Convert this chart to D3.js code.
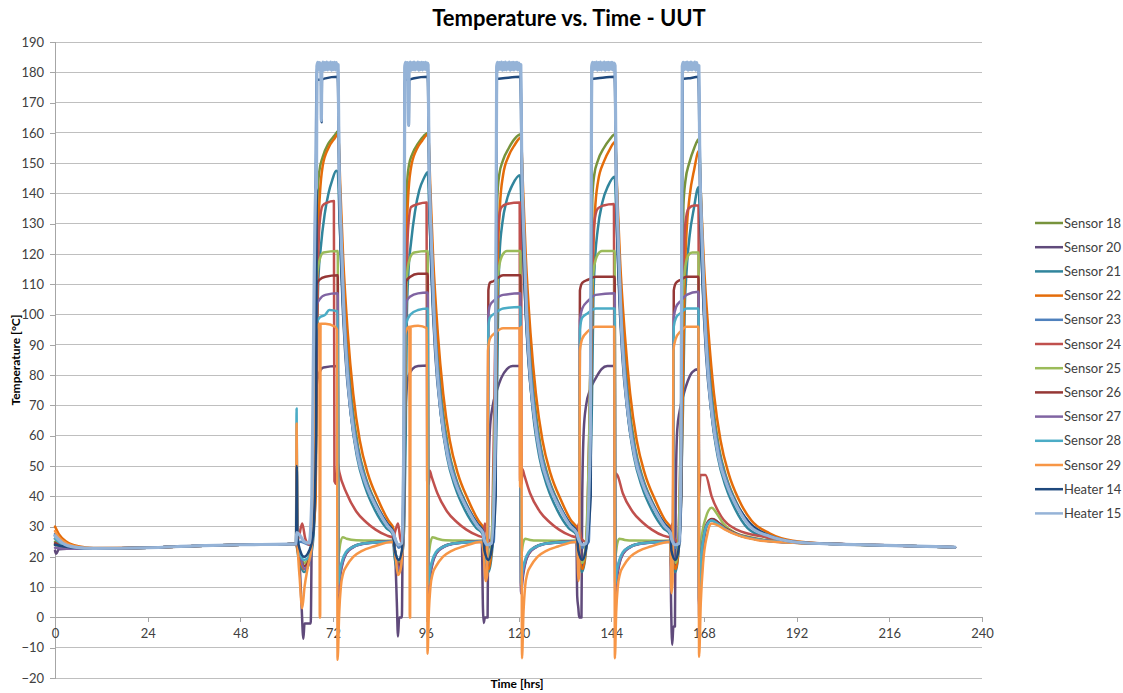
<!DOCTYPE html>
<html>
<head>
<meta charset="utf-8">
<script src="https://cdn.jsdelivr.net/npm/d3@7"></script>
<style>
  html, body { margin: 0; padding: 0; background: #fff; }
  svg { display: block; font-family: Lato, "Liberation Sans", sans-serif; }
</style>
</head>
<body>
<svg id="chart" width="1123" height="693"></svg>
<script>
// Temperature vs. Time - UUT : 11 sensors + 2 heaters, five heat cycles. [hours, degC] pairs.
var xTicks = [0, 24, 48, 72, 96, 120, 144, 168, 192, 216, 240];
var yTicks = [-20, -10, 0, 10, 20, 30, 40, 50, 60, 70, 80, 90, 100, 110, 120, 130, 140, 150, 160, 170, 180, 190];
var names = ["Sensor 18", "Sensor 20", "Sensor 21", "Sensor 22", "Sensor 23", "Sensor 24", "Sensor 25",
             "Sensor 26", "Sensor 27", "Sensor 28", "Sensor 29", "Heater 14", "Heater 15"];
var colors = ["#77933C", "#604A7B", "#31859C", "#E46C0A", "#4F81BD", "#C0504D", "#9BBB59",
              "#953735", "#8064A2", "#4BACC6", "#F79646", "#1F497D", "#95B3D7"];

var s18 = [[0,25],[2,23.8],[5,23],[10,22.8],[24,23],[36,23.6],[48,24],[60,24.2],[62.4,24.3],
  [63,22],[64.5,18],[65.8,20],[66.5,26],[67.2,60],[67.6,110],[68,140],[68.4,147],[69.3,152],[70.8,156.5],[72.3,159],[73.3,160.5],
  [73.8,140],[74.5,115],[75.5,92],[76.8,72],[78.5,56],[80.5,46],[83,38],[86,31],[87.5,28.5],
  [88,22],[89,18],[89.7,20],[90.2,28],[90.5,70],[90.8,120],[91.1,142],[91.6,149],[92.5,153],[94,156.5],[95.5,159],[96.6,160],
  [97.1,140],[97.8,115],[98.8,92],[100.1,72],[101.8,56],[103.8,46],[106.3,38],[109.3,31],[110.8,28.5],
  [111.3,22],[112.2,18],[112.9,22],[113.6,40],[114.1,90],[114.5,138],[115,146],[116,151],[117.5,155],[119,158],[120.6,159.5],
  [121.1,140],[121.8,115],[122.8,92],[124.1,72],[125.8,56],[127.8,46],[130.3,38],[133.3,31],[135,28.5],
  [135.6,22],[136.5,18],[137.3,22],[138.1,40],[138.7,90],[139.1,138],[139.6,146],[140.6,151],[142.1,155],[143.6,157.8],[145,159.5],
  [145.5,140],[146.2,115],[147.2,92],[148.5,72],[150.2,56],[152.2,46],[154.7,38],[157.7,31],[159.3,28.5],
  [159.7,22],[160.6,18],[161.3,22],[161.9,40],[162.3,90],[162.7,136],[163.2,144],[164.2,150],[165.5,155],[166.7,158],
  [167.2,140],[167.9,115],[168.9,92],[170.2,72],[171.9,56],[173.9,46],[176.4,38],[179.5,31.5],[184,27.5],[190,25.2],[200,24.3],[215,23.8],[233,23.2]];

var s20 = [[0,22],[0.3,21],[1,22.5],[5,22.8],[10,22.8],[24,23],[36,23.6],[48,24],[60,24.2],[62.4,24.3],
  [63.2,20],[63.8,5],[64.3,-7],[64.6,-2],[66.2,-2],[66.5,30],[67,50],[67.5,72],[68.2,80],[69.5,82.5],[73.2,83],
  [73.35,5],[73.7,12],[74.3,17],[75.3,21],[77.3,23.5],[80.3,24.5],[87.5,25],
  [88,22],[88.5,5],[88.8,-6.3],[89.1,0],[89.8,0],[90,25],[90.4,50],[90.8,70],[91.4,79],[92.5,82],[94,83],[96.5,83.2],
  [96.65,5],[97,12],[97.6,17],[98.6,21],[100.6,23.5],[103.6,24.5],[110.5,25],
  [110.8,3],[111,-1.8],[111.3,0],[112,0],[112.2,40],[112.6,62],[113.2,69],[114.4,75],[115.5,79],[117,82],[118.5,83],[120.5,83],
  [120.7,8],[121,12],[121.6,17],[122.6,21],[124.6,23.5],[127.6,24.5],[135,25],
  [135.2,7],[135.5,3],[135.7,0],[136.3,0],[136.5,40],[136.9,62],[137.5,70],[138.5,75],[140,79],[141.5,82],[143,83],[144.9,83],
  [145.05,8],[145.4,12],[146,17],[147,21],[149,23.5],[152,24.5],[159.3,25],
  [159.5,5],[159.8,-9],[160.1,-3],[160.5,-3],[160.7,40],[161.1,62],[161.7,68],[162.6,73],[163.8,78],[165,81],[166.6,82],
  [166.75,0],[167.3,16],[168.2,27],[169.2,31.5],[170.3,32.5],[172,31],[174,29],[177.5,27],[182.5,25.6],[190,24.7],[200,24.3],[215,23.8],[233,23.2]];

var s21 = [[0,27],[2,24.5],[5,23.2],[10,22.8],[24,23],[36,23.6],[48,24],[60,24.2],[62.4,24.3],
  [63,20],[64.5,15],[65.8,18],[66.8,25],[67.5,45],[67.9,95],[68.2,112],[68.8,122],[69.8,133],[70.8,140],[71.8,144.5],[72.8,147.5],[73.2,147],
  [73.7,130],[74.4,108],[75.4,85],[76.6,67],[78.2,53],[80.3,43],[82.8,35.5],[85.8,29.5],[87.4,27.5],
  [87.9,20],[89,15],[89.7,18],[90.4,30],[90.8,60],[91.1,100],[91.5,114],[92.2,124],[93.2,134],[94.3,141],[95.5,145],[96.5,147],
  [97,130],[97.7,108],[98.7,85],[99.9,67],[101.5,53],[103.6,43],[106.1,35.5],[109.1,29.5],[110.7,27.5],
  [111.2,20],[112.2,15],[113,20],[113.8,35],[114.4,70],[114.8,108],[115.1,120],[115.8,130],[117,138],[118.5,143],[120.4,146],
  [120.9,130],[121.6,108],[122.6,85],[123.8,67],[125.4,53],[127.5,43],[130,35.5],[133,29.5],[134.9,27.5],
  [135.5,20],[136.4,15],[137.3,20],[138.2,35],[139,70],[139.4,106],[139.8,118],[140.5,128],[141.7,137],[143.2,142.5],[144.9,145.5],
  [145.4,130],[146.1,108],[147.1,85],[148.3,67],[149.9,53],[152,43],[154.5,35.5],[157.5,29.5],[159.2,27.5],
  [159.7,20],[160.6,15],[161.3,20],[162,35],[162.6,70],[163,100],[163.5,114],[164.3,126],[165.4,135],[166.6,142],
  [167.1,127],[167.8,107],[168.8,85],[170,67],[171.6,53],[173.7,43],[176.2,35.5],[179.3,29.5],[184,26.5],[190,25],[200,24.3],[215,23.8],[233,23.2]];

var s22 = [[0,30],[1,27.5],[3,25],[6,23.5],[10,22.9],[24,23],[36,23.6],[48,24],[60,24.2],[62.4,24.3],
  [63,21],[64.5,16],[65.8,19],[66.8,28],[67.5,40],[67.8,90],[68.1,125],[68.6,140],[69.3,149],[70.8,155],[72.3,158],[73.3,159.5],
  [73.9,141],[74.6,119],[75.8,94],[77.2,74],[78.9,58.5],[81,47.5],[83.6,39],[86.3,32],[87.6,29.5],
  [88.1,21],[89,16],[89.7,19],[90.3,30],[90.6,80],[90.9,120],[91.4,138],[92.1,148],[93.6,154.5],[95.1,157.5],[96.6,159.5],
  [97.2,141],[97.9,119],[99.1,94],[100.5,74],[102.2,58.5],[104.3,47.5],[106.9,39],[109.6,32],[110.9,29.5],
  [111.4,21],[112.3,16],[113,22],[113.8,40],[114.3,85],[114.7,120],[115.2,136],[116,146],[117.5,152.5],[119,156],[120.6,158.5],
  [121.2,141],[121.9,119],[123.1,94],[124.5,74],[126.2,58.5],[128.3,47.5],[130.9,39],[133.6,32],[135.1,29.5],
  [135.7,21],[136.6,16],[137.4,22],[138.3,40],[138.9,85],[139.3,118],[139.8,134],[140.6,144],[142.1,150.5],[143.6,154.5],[145,157],
  [145.6,139],[146.3,118],[147.5,94],[148.9,74],[150.6,58.5],[152.7,47.5],[155.3,39],[158,32],[159.4,29.5],
  [159.8,21],[160.7,16],[161.4,22],[162.1,40],[162.6,80],[163,110],[163.5,127],[164.3,139],[165.5,148],[166.7,154],
  [167.3,137],[168,117],[169.2,94],[170.6,74],[172.3,58.5],[174.4,47.5],[177,39],[180.3,32],[185,27.8],[191,25.3],[200,24.3],[215,23.8],[233,23.2]];

var s23 = [[0,27.5],[2,24.5],[5,23.2],[10,22.8],[24,23],[36,23.6],[48,24],[60,24.2],[62.4,24.3],
  [63.5,25],[65.8,24],[66.6,40],[67.3,120],[67.8,181.5],[73.2,181.8],
  [73.6,150],[74.3,120],[75.1,96],[76,80],[77.2,65],[78.9,52.5],[81,43.5],[83.7,36],[86.5,30],[87.6,28],
  [89,23],[90,25],[90.4,80],[90.6,181.5],[96.5,181.8],
  [96.9,150],[97.6,120],[98.4,96],[99.3,80],[100.5,65],[102.2,52.5],[104.3,43.5],[107,36],[109.8,30],[110.9,28],
  [112,23],[113.6,25],[114.1,80],[114.4,181.5],[120.5,181.8],
  [120.9,150],[121.6,120],[122.4,96],[123.3,80],[124.5,65],[126.2,52.5],[128.3,43.5],[131,36],[133.8,30],[135.1,28],
  [136.5,23],[138.2,25],[138.7,80],[139,181.5],[144.9,181.8],
  [145.3,150],[146,120],[146.8,96],[147.7,80],[148.9,65],[150.6,52.5],[152.7,43.5],[155.4,36],[158.2,30],[159.4,28],
  [160.6,23],[161.8,25],[162.2,80],[162.45,181.5],[166.6,181.8],
  [167,150],[167.7,120],[168.5,96],[169.4,80],[170.6,65],[172.3,52.5],[174.4,43.5],[177.1,36],[180.5,30],[185.5,26.7],[191,25],[200,24.3],[215,23.8],[233,23.2]];

var s24 = [[0,26],[2,24],[5,23.2],[10,22.8],[24,23],[36,23.6],[48,24],[60,24.2],[62.4,24.3],
  [63.2,27],[64,31],[64.8,26],[65.8,24],[66.8,30],[67.5,60],[68,110],[68.5,130],[69.3,136],[70.5,137],[72.2,137.5],
  [72.35,45],[72.9,44],[73.1,51.5],[73.6,48],[75.5,41],[78,35],[80.5,31.5],[83,29],[86,27],[87.5,26.5],
  [88.2,29],[88.8,31],[89.4,26],[90,24],[90.4,40],[90.9,100],[91.4,128],[92.2,135.5],[94,136.5],[96.2,137],
  [96.35,45],[96.8,44],[97,48.5],[97.5,46.5],[99,41],[101.5,35],[104,31.5],[106.5,29],[109.5,27],[110.8,26.5],
  [111.3,31],[112,26],[113,25],[113.6,60],[114.2,110],[114.8,130],[115.6,135.5],[117,136.5],[120.3,137],
  [120.4,45],[120.5,137],[120.6,45],[120.7,137],[120.8,44],[121,49],[121.5,47],[123,41],[125.5,35],[128,31.5],[130.5,29],[133.5,27],[135,26.5],
  [135.6,31],[136.3,26],[137.5,25],[138.3,60],[139,110],[139.6,130],[140.5,135],[142,136],[144.7,136.5],
  [144.85,45],[145.2,47.5],[145.6,47],[147,41],[149.5,35],[152,31.5],[154.5,29],[157.5,27],[159.3,26.5],
  [159.8,31],[160.4,26],[161.3,25],[162,60],[162.6,110],[163.2,130],[164,135],[165.5,136],[166.6,136],
  [166.75,40],[167.1,47],[168.4,47],[170,40],[172.5,33.3],[176.5,29],[184,26.5],[192,24.8],[205,24.2],[220,23.6],[233,23.2]];

var s25 = [[0,24],[2,23.3],[5,22.9],[10,22.8],[24,23],[36,23.6],[48,24],[60,24.2],[62.4,24.3],
  [63.2,22],[64.5,18],[65.8,20],[66.8,30],[67.4,80],[67.8,112],[68.5,118],[69.5,120.5],[73.2,121],
  [73.35,20],[73.8,24],[74.5,26.5],[75.5,26],[78,25.5],[87.5,25.3],
  [88,22],[89,18],[89.7,20],[90.4,40],[90.8,100],[91.2,114],[92,119],[93,120.5],[96.5,121],
  [96.65,20],[97.1,24],[97.7,26.5],[99,26],[101,25.5],[110.5,25.3],
  [111,22],[112,18],[112.8,22],[113.8,60],[114.3,105],[115,116],[116,120],[117,121],[120.5,121],
  [120.65,20],[121.1,24],[121.7,26],[123,25.6],[125,25.4],[135,25.3],
  [135.5,22],[136.5,18],[137.3,22],[138.3,60],[138.9,105],[139.6,116],[140.6,120],[141.6,121],[144.9,121],
  [145.05,20],[145.5,24],[146.1,26],[147.5,25.6],[150,25.4],[159.3,25.3],
  [159.7,22],[160.7,18],[161.3,22],[162,60],[162.5,105],[163.2,116],[164.2,120],[165,120.5],[166.6,120.5],
  [166.75,15],[167.3,25],[168.5,33],[170,36.2],[171.5,34],[173,31],[176,28],[180,26.5],[188,25],[200,24.3],[215,23.8],[233,23.2]];

var s26 = [[0,24.5],[2,23.5],[5,23],[10,22.8],[24,23],[36,23.6],[48,24],[60,24.2],[62.4,24.3],
  [63.2,22],[64.5,17],[65.8,19],[66.6,25],[67.3,60],[67.7,110],[68.5,111.5],[70,112.5],[73.2,113],
  [73.35,10],[73.7,14],[74.3,18],[75.3,21],[77.3,23.3],[80.3,24.5],[87.5,25.2],
  [88,22],[89,17],[89.7,19],[90.3,30],[90.6,95],[90.9,111],[92,112.5],[94,113.5],[96.5,113.5],
  [96.65,10],[97,14],[97.6,18],[98.6,21],[100.6,23.3],[103.6,24.5],[110.5,25.2],
  [111,22],[111.6,17],[112,19],[112.2,108],[112.6,110.5],[113.5,111],[114.5,112],[116,113],[120.5,113],
  [120.65,10],[121,14],[121.6,18],[122.6,21],[124.6,23.3],[127.6,24.5],[135,25.2],
  [135.3,22],[135.5,17],[135.7,19],[135.9,108],[136.5,110.5],[138,111.5],[140,112.5],[144.9,112.5],
  [145.05,10],[145.4,14],[146,18],[147,21],[149,23.3],[152,24.5],[159.3,25.2],
  [159.4,22],[159.6,15],[160,18],[160.2,108],[160.8,110.5],[162,111.5],[163.5,112.5],[166.6,112.5],
  [166.75,5],[167.2,18],[168,27],[169,31.5],[170,32.5],[171.5,31.5],[173.5,29.5],[177,27.3],[182,25.8],[190,24.8],[200,24.3],[215,23.8],[233,23.2]];

var s27 = [[0,23],[2,22.8],[5,22.7],[10,22.8],[24,23],[36,23.6],[48,24],[60,24.2],[62.4,24.3],
  [63.2,22],[64.5,16],[65.8,18],[66.6,25],[67.3,60],[67.7,103],[68.5,105],[70,106.5],[73.2,107],
  [73.35,8],[73.7,13],[74.3,17.5],[75.3,21],[77.3,23.2],[80.3,24.4],[87.5,25.1],
  [88,22],[89,16],[89.7,18],[90.3,30],[90.6,90],[90.9,104],[92,106],[94,107],[96.5,107.3],
  [96.65,8],[97,13],[97.6,17.5],[98.6,21],[100.6,23.2],[103.6,24.4],[110.5,25.1],
  [111,22],[111.6,16],[112,18],[112.2,100],[112.6,103],[114,105],[116,106.5],[120.5,107],
  [120.65,8],[121,13],[121.6,17.5],[122.6,21],[124.6,23.2],[127.6,24.4],[135,25.1],
  [135.3,22],[135.5,16],[135.7,18],[135.9,98],[136.5,102],[138,104.5],[140,106.5],[144.9,107],
  [145.05,8],[145.4,13],[146,17.5],[147,21],[149,23.2],[152,24.4],[159.3,25.1],
  [159.4,22],[159.6,14],[160,18],[160.2,99],[160.8,102.5],[162,104.5],[163.5,106.5],[166.6,107.5],
  [166.75,4],[167.2,17],[168,26.5],[169,31],[170,32],[171.5,31],[173.5,29.2],[177,27.2],[182,25.7],[190,24.8],[200,24.3],[215,23.8],[233,23.2]];

var s28 = [[0,26],[2,24],[5,23.1],[10,22.8],[24,23],[36,23.6],[48,24],[60,24.2],[62.4,24.3],
  [62.55,69],[62.75,30],[63.2,22],[64.5,19],[65.8,20],[66.6,25],[67.3,60],[67.7,97],[68.5,99],[70,100],[71,101.5],[73.2,101],
  [73.35,11],[73.7,15],[74.3,18.5],[75.3,21.5],[77.3,23.4],[80.3,24.5],[87.5,25.1],
  [88,22],[89,19],[89.7,20],[90.3,30],[90.6,85],[90.9,97],[92,100],[94,101.5],[96.5,102],
  [96.65,11],[97,15],[97.6,18.5],[98.6,21.5],[100.6,23.4],[103.6,24.5],[110.5,25.1],
  [111,22],[111.6,18],[112,20],[112.2,96],[112.6,99],[114,100.5],[116,102],[120.5,102.5],
  [120.65,11],[121,15],[121.6,18.5],[122.6,21.5],[124.6,23.4],[127.6,24.5],[135,25.1],
  [135.3,22],[135.5,18],[135.7,20],[135.9,95],[136.5,99],[138,100.5],[140,102],[144.9,102],
  [145.05,11],[145.4,15],[146,18.5],[147,21.5],[149,23.4],[152,24.5],[159.3,25.1],
  [159.4,22],[159.6,16],[160,19],[160.2,96],[160.8,99],[162,100.5],[163.5,102],[166.6,102],
  [166.75,6],[167.2,18],[168,27],[169,31],[170,32],[171.5,31],[173.5,29.2],[177,27.2],[182,25.7],[190,24.8],[200,24.3],[215,23.8],[233,23.2]];

var s29 = [[0,28.5],[1,26.5],[3,24.5],[6,23.3],[10,22.8],[24,23],[36,23.6],[48,24],[60,24.2],[62.4,24.3],
  [62.55,64],[62.8,26],[63.4,12],[64,3],[64.6,10],[65.5,17],[66.5,24],[67.2,60],[67.6,95],[68.45,97],[68.55,0],[68.65,0],[68.75,97],[70,97],[72.5,96],[73,95],
  [73.15,-14],[73.6,2],[74,10],[74.6,14.5],[75.5,17],[77.2,20],[79.5,22],[82.5,23.4],[87.5,25],
  [88.1,21],[88.8,14],[89.5,16],[90.2,30],[90.6,93],[91,95],[91.75,96],[91.85,0],[91.95,0],[92.05,96],[94,96.3],[96.3,95.5],
  [96.45,-12],[96.8,2],[97.2,10],[97.8,14.5],[98.7,17],[100.4,20],[102.7,22],[105.7,23.4],[110.5,25],
  [111,21],[111.5,12],[111.9,14],[112.1,88],[112.6,92],[114,94],[116,95.5],[120.3,95.5],[120.4,43],[120.5,95],[120.6,43],[120.7,96],[120.8,44],
  [120.9,-13.5],[121.3,2],[121.7,10],[122.3,14.5],[123.2,17],[124.9,20],[127.2,22],[130.2,23.4],[135,25],
  [135.3,21],[135.5,12],[135.7,14],[135.9,88],[136.5,92],[138,94.5],[140,96],[144.8,96],
  [144.95,-13.5],[145.3,2],[145.7,10],[146.3,14.5],[147.2,17],[148.9,20],[151.2,22],[154.2,23.4],[159.3,25],
  [159.4,21],[159.6,8],[159.9,12],[160.1,88],[160.7,92],[162,94.5],[163.5,96],[166.6,96],
  [166.75,-13],[167.2,5],[167.8,18],[168.8,27],[170,31],[171.5,30.5],[173.5,29],[177,27],[182,25.5],[190,24.7],[200,24.3],[215,23.8],[233,23.2]];

var h14 = [[0,24],[2,23.5],[5,23],[10,22.8],[24,23],[36,23.6],[48,24],[60,24.2],[62.4,24.3],
  [62.6,50],[62.8,26],[63.5,22],[64.5,20],[65.8,22],[66.8,27],[67.6,60],[67.82,177.5],[68.9,177.5],[69,163.5],[69.1,177.5],[70,178],[73.2,178.5],
  [73.6,140],[74.2,112],[75.2,86],[76.5,68],[78.2,54],[80.3,45],[83,37.5],[86,31],[87.5,28.5],
  [88,22],[89,19],[89.8,22],[90.35,40],[90.57,177.5],[91.5,177.5],[91.6,162.5],[91.7,177.5],[93,178],[96.5,178.5],
  [96.9,140],[97.5,112],[98.5,86],[99.8,68],[101.5,54],[103.6,45],[106.3,37.5],[109.3,31],[110.8,28.5],
  [111.2,22],[112.2,19],[113,22],[114.1,40],[114.37,177.8],[116,178],[120.5,178.5],
  [120.9,140],[121.5,112],[122.5,86],[123.8,68],[125.5,54],[127.6,45],[130.3,37.5],[133.3,31],[135,28.5],
  [135.5,22],[136.5,19],[137.4,22],[138.7,40],[138.97,177.8],[140.5,178],[144.9,178.5],
  [145.3,140],[145.9,112],[146.9,86],[148.2,68],[149.9,54],[152,45],[154.7,37.5],[157.7,31],[159.3,28.5],
  [159.6,22],[160.6,19],[161.4,22],[162.15,40],[162.42,177.8],[164,178],[166.6,178.5],
  [167,140],[167.6,112],[168.6,86],[169.9,68],[171.6,54],[173.7,45],[176.4,37.5],[180,31],[185,27],[191,25],[200,24.3],[215,23.8],[233,23.2]];

var h15 = [[0,27],[2,24.5],[5,23.2],[10,22.8],[24,23],[36,23.6],[48,24],[60,24.2],[62.4,24.3],
  [62.55,28],[63.5,27],[64.5,25],[65.8,24.5],[66.5,40],[67,100],[67.5,141],[67.7,142],
  [67.8,182],[68.05,183.3],[68.3,180.8],[68.55,183.2],[68.8,181],[68.95,164],[69.1,181.5],[69.35,183.4],[69.6,180.7],[69.85,183.2],[70.1,180.9],[70.35,183.4],
  [70.6,180.8],[70.85,183.1],[71.1,181],[71.35,183.4],[71.6,180.7],[71.85,183.2],[72.1,180.9],[72.35,183.3],[72.6,180.8],[72.85,183.2],[73.1,181],[73.3,182.5],
  [73.5,155],[74.1,125],[74.8,100],[75.6,82],[76.8,66],[78.4,53],[80.5,44],[83.2,36.5],[86.2,30],[87.5,28],
  [88,26],[89,24],[89.8,24.5],[90.3,60],
  [90.55,182],[90.8,183.3],[91.05,180.8],[91.3,183.2],[91.55,162.5],[91.7,181.5],[91.95,183.4],[92.2,180.7],[92.45,183.2],[92.7,180.9],[92.95,183.4],[93.2,180.8],
  [93.45,183.1],[93.7,181],[93.95,183.4],[94.2,180.7],[94.45,183.2],[94.7,180.9],[94.95,183.3],[95.2,180.8],[95.45,183.2],[95.7,181],[95.95,183.3],[96.2,180.8],[96.45,183],[96.6,182.5],
  [96.8,155],[97.4,125],[98.1,100],[98.9,82],[100.1,66],[101.7,53],[103.8,44],[106.5,36.5],[109.5,30],[110.8,28],
  [111,26],[112,24],[113,24.5],[114,60],
  [114.35,182],[114.6,183.3],[114.85,180.8],[115.1,183.2],[115.35,181],[115.6,183.4],[115.85,180.7],[116.1,183.2],[116.35,180.9],[116.6,183.4],[116.85,180.8],[117.1,183.1],
  [117.35,181],[117.6,183.4],[117.85,180.7],[118.1,183.2],[118.35,180.9],[118.6,183.3],[118.85,180.8],[119.1,183.2],[119.35,181],[119.6,183.3],[119.85,180.8],[120.1,183],[120.35,181],[120.6,182.5],
  [120.8,155],[121.4,125],[122.1,100],[122.9,82],[124.1,66],[125.7,53],[127.8,44],[130.5,36.5],[133.5,30],[135,28],
  [135.5,26],[136.5,24],[137.5,24.5],[138.6,60],
  [138.95,182],[139.2,183.3],[139.45,180.8],[139.7,183.2],[139.95,181],[140.2,183.4],[140.45,180.7],[140.7,183.2],[140.95,180.9],[141.2,183.4],[141.45,180.8],[141.7,183.1],
  [141.95,181],[142.2,183.4],[142.45,180.7],[142.7,183.2],[142.95,180.9],[143.2,183.3],[143.45,180.8],[143.7,183.2],[143.95,181],[144.2,183.3],[144.45,180.8],[144.7,183],[145,182.2],
  [145.2,155],[145.8,125],[146.5,100],[147.3,82],[148.5,66],[150.1,53],[152.2,44],[154.9,36.5],[157.9,30],[159.3,28],
  [159.6,26],[160.6,24],[161.6,24.5],[162.1,60],
  [162.4,182],[162.65,183.3],[162.9,180.8],[163.15,183.2],[163.4,181],[163.65,183.4],[163.9,180.7],[164.15,183.2],[164.4,180.9],[164.65,183.4],[164.9,180.8],[165.15,183.1],
  [165.4,181],[165.65,183.4],[165.9,180.7],[166.15,183.2],[166.4,180.9],[166.7,182.2],
  [166.9,155],[167.5,125],[168.2,100],[169,82],[170.2,66],[171.8,53],[173.9,44],[176.6,36.5],[180,30],[185,26.8],[191,25],[200,24.3],[215,23.8],[233,23.2]];

var series = [s18, s20, s21, s22, s23, s24, s25, s26, s27, s28, s29, h14, h15];

(function () {
  "use strict";
  var svg = d3.select("#chart");
  var GRID = "#BFBFBF", AXIS = "#A6A6A6", INK = "#404040";
  var x = d3.scaleLinear().domain([0, 240]).range([55, 982]);
  var y = d3.scaleLinear().domain([-20, 190]).range([678, 42]);

  svg.append("rect").attr("width", 1123).attr("height", 693).attr("fill", "#fff");

  // horizontal gridlines
  svg.append("g").selectAll("line").data(yTicks).join("line")
    .attr("x1", x(0)).attr("x2", x(240)).attr("y1", function (d) { return y(d); }).attr("y2", function (d) { return y(d); })
    .attr("stroke", GRID).attr("stroke-width", 1).attr("shape-rendering", "crispEdges");

  // y axis
  var ya = svg.append("g").attr("transform", "translate(" + x(0) + ",0)")
    .call(d3.axisLeft(y).tickValues(yTicks).tickSize(5).tickPadding(6).tickFormat(d3.format("d")));
  ya.select(".domain").attr("stroke", AXIS).attr("shape-rendering", "crispEdges");
  ya.selectAll(".tick line").attr("stroke", AXIS).attr("shape-rendering", "crispEdges");
  ya.selectAll("text").attr("font-family", "Lato, sans-serif").attr("font-size", 13).attr("fill", INK);

  // x axis sits on the 0 line
  var xa = svg.append("g").attr("transform", "translate(0," + y(0) + ")")
    .call(d3.axisBottom(x).tickValues(xTicks).tickSize(5).tickPadding(6).tickFormat(d3.format("d")));
  xa.select(".domain").attr("stroke", AXIS).attr("shape-rendering", "crispEdges");
  xa.selectAll(".tick line").attr("stroke", AXIS).attr("shape-rendering", "crispEdges");
  xa.selectAll("text").attr("font-family", "Lato, sans-serif").attr("font-size", 13).attr("fill", INK);

  // the series, drawn in legend order so Heater 15 ends on top
  var line = d3.line().x(function (d) { return x(d[0]); }).y(function (d) { return y(d[1]); }).curve(d3.curveMonotoneX);
  var plot = svg.append("g").attr("fill", "none").attr("stroke-linejoin", "round").attr("stroke-linecap", "round");
  series.forEach(function (s, i) {
    plot.append("path").attr("d", line(s)).attr("stroke", colors[i])
      .attr("stroke-width", i === 12 ? 3.2 : 2.5);
  });

  // titles
  svg.append("text").attr("x", 569).attr("y", 26).attr("text-anchor", "middle")
    .attr("font-size", 22).attr("font-weight", 700).attr("fill", "#000").text("Temperature vs. Time - UUT");
  svg.append("text").attr("x", 517).attr("y", 688).attr("text-anchor", "middle")
    .attr("font-size", 12).attr("font-weight", 700).attr("fill", "#000").text("Time [hrs]");
  svg.append("text").attr("transform", "translate(20,360) rotate(-90)").attr("text-anchor", "middle")
    .attr("font-size", 12).attr("font-weight", 700).attr("fill", "#000").text("Temperature [°C]");

  // legend
  var lg = svg.append("g").attr("transform", "translate(1035,223)");
  names.forEach(function (n, i) {
    var row = lg.append("g").attr("transform", "translate(0," + (i * 24.2) + ")");
    row.append("line").attr("x1", 0).attr("x2", 28).attr("y1", 0).attr("y2", 0)
      .attr("stroke", colors[i]).attr("stroke-width", 2.5);
    row.append("text").attr("x", 29).attr("y", 4.5).attr("font-size", 13).attr("fill", INK).text(n);
  });
})();
</script>
</body>
</html>
